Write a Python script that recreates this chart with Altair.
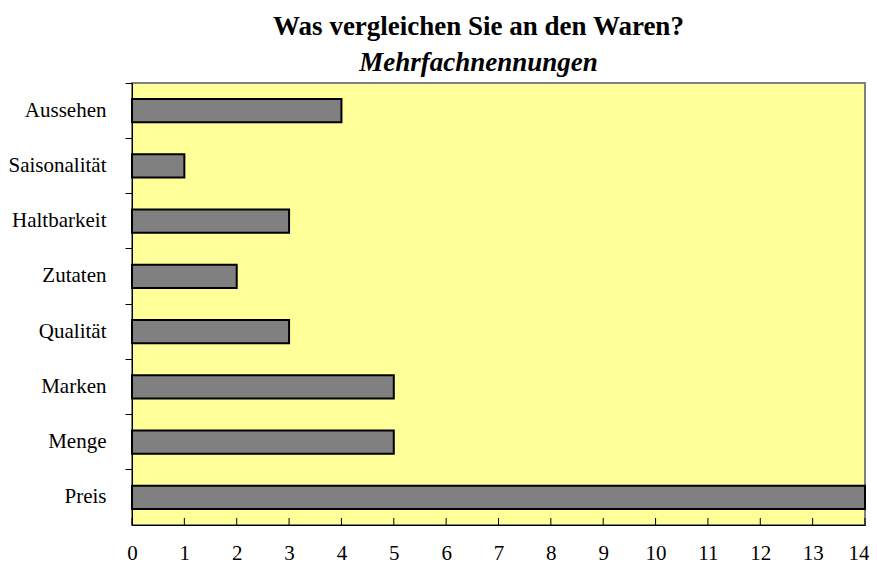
import altair as alt
import pandas as pd

categories = ["Aussehen", "Saisonalität", "Haltbarkeit", "Zutaten", "Qualität", "Marken", "Menge", "Preis"]
counts = [4, 1, 3, 2, 3, 5, 5, 14]
x_ticks = list(range(0, 15))

df = pd.DataFrame({"Kriterium": categories, "Anzahl": counts})
ticks_df = pd.DataFrame({"t": x_ticks})

FONT = "Liberation Serif"

bars = alt.Chart(df).mark_bar(
    color="#808080", stroke="#000000", strokeWidth=2
).encode(
    y=alt.Y("Kriterium:N", sort=categories, title=None,
            scale=alt.Scale(paddingInner=0.58, paddingOuter=0.29),
            axis=alt.Axis(bandPosition=-0.69, tickSize=7, tickColor="#000000",
                          domainColor="#000000", labelPadding=19,
                          labelFont=FONT, labelFontSize=21, labelColor="#000000")),
    x=alt.X("Anzahl:Q", title=None,
            scale=alt.Scale(domain=[0, 14], nice=False),
            axis=alt.Axis(values=x_ticks, ticks=False, grid=False, domainColor="#000000",
                          labelPadding=17, labelFont=FONT, labelFontSize=21,
                          labelColor="#000000", labelFlush=False,
                          labelAlign={"expr": "datum.value == 14 ? 'right' : 'center'"},
                          labelOffset={"expr": "datum.value == 14 ? 4 : 0"})),
)

tick_rules = alt.Chart(ticks_df).mark_rule(color="#000000", strokeWidth=1).encode(
    x=alt.X("t:Q"),
    y=alt.value(435),
    y2=alt.value(442),
)

chart = alt.layer(bars, tick_rules).properties(
    width=733,
    height=442,
    background="#FFFFFF",
    autosize=alt.AutoSizeParams(type="none"),
    padding={"left": 124, "top": 75, "right": 4, "bottom": 40},
    title=alt.TitleParams(
        text="Was vergleichen Sie an den Waren?",
        subtitle="Mehrfachnennungen",
        font=FONT, fontSize=27, fontWeight="bold", color="#000000",
        subtitleFont=FONT, subtitleFontSize=27, subtitleFontWeight="bold",
        subtitleFontStyle="italic", subtitleColor="#000000",
        subtitlePadding=9, offset=6, anchor="middle", dx=-20,
    ),
).configure_view(
    fill="#FFFF99", stroke="#808080", strokeWidth=2
)

chart.save("out.html", embed_options={"renderer": "svg", "actions": False})
